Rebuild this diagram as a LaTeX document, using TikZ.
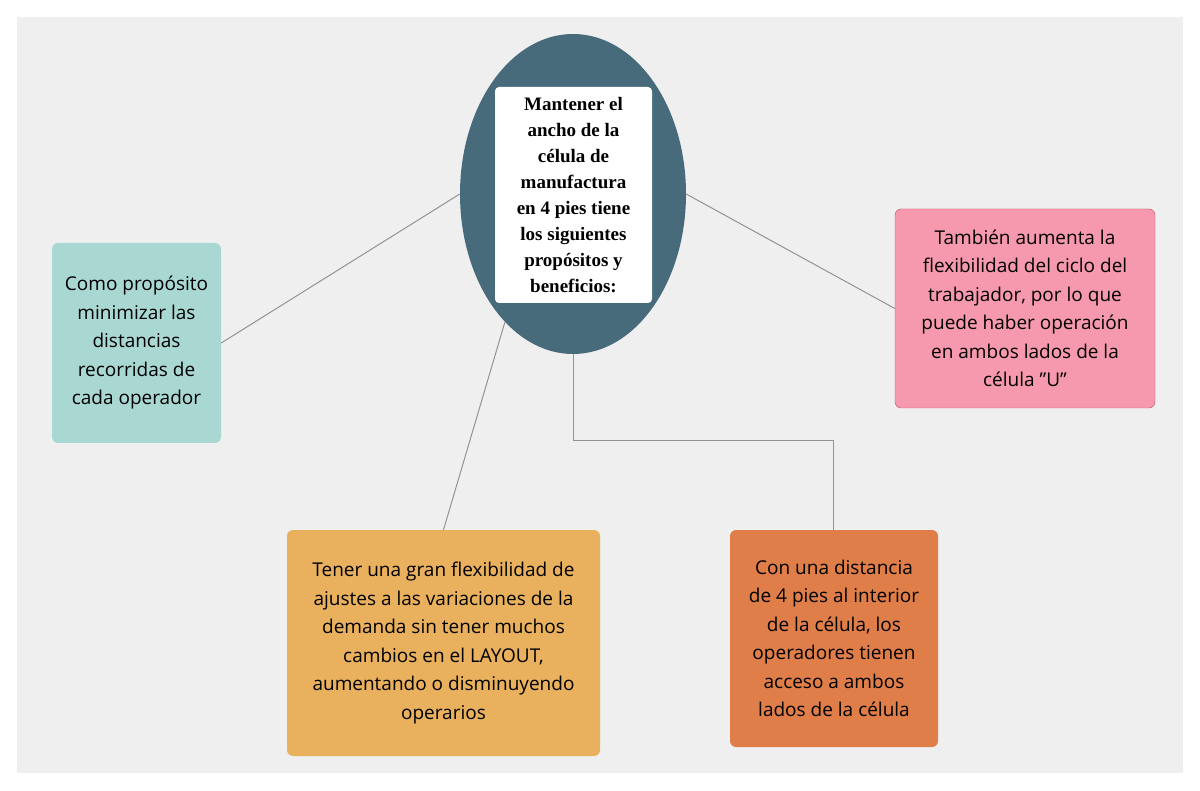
\documentclass[tikz,border=0pt]{standalone}
\usepackage{fontspec}
\setmainfont{Open Sans}
\newfontfamily\serifb{Liberation Serif}
\usetikzlibrary{shapes.geometric}
\definecolor{bg}{HTML}{EFEFEF}
\definecolor{ell}{HTML}{476B7B}
\definecolor{cteal}{HTML}{A9D8D3}
\definecolor{cpink}{HTML}{F799AE}
\definecolor{cyel}{HTML}{E9B15E}
\definecolor{corg}{HTML}{DF7E48}
\begin{document}
\begin{tikzpicture}[x=1pt,y=-1pt,
 box/.style={rounded corners=6pt,align=center,inner sep=0pt,font=\fontsize{19}{28.5}\selectfont},
 conn/.style={draw=gray!85,line width=1pt}]
\useasboundingbox (0,0) rectangle (1200,791);
\fill[bg] (17,17) rectangle (1183,773);
\node[ellipse,fill=ell,minimum width=226pt,minimum height=320pt,inner sep=0pt] (e) at (573,194) {};
\node[fill=white,rounded corners=4pt,minimum width=157pt,minimum height=216pt,inner sep=0pt,align=center,font=\serifb\bfseries\fontsize{19}{26}\selectfont] (c) at (573.5,195) {Mantener el\\ancho de la\\célula de\\manufactura\\en 4 pies tiene\\los siguientes\\propósitos y\\beneficios:};
\node[box,fill=cteal,minimum width=169pt,minimum height=200pt] (l) at (136.5,343) {Como propósito\\minimizar las\\distancias\\recorridas de\\cada operador};
\node[box,fill=cpink,draw={rgb,255:red,192;green,80;blue,106},minimum width=260pt,minimum height=199pt] (r) at (1025,308.5) {También aumenta la\\flexibilidad del ciclo del\\trabajador, por lo que\\puede haber operación\\en ambos lados de la\\célula "U"};
\node[box,fill=cyel,minimum width=313pt,minimum height=226pt] (bl) at (443.5,643) {Tener una gran flexibilidad de\\ajustes a las variaciones de la\\demanda sin tener muchos\\cambios en el LAYOUT,\\aumentando o disminuyendo\\operarios};
\node[box,fill=corg,minimum width=208pt,minimum height=217pt] (br) at (834,638.5) {Con una distancia\\de 4 pies al interior\\de la célula, los\\operadores tienen\\acceso a ambos\\lados de la célula};
\coordinate (k1) at (573,441);
\coordinate (k2) at (833,441);
\draw[conn] (e.west) -- (l.east);
\draw[conn] (e.east) -- (r.west);
\draw[conn] (e.-118) -- (bl.north);
\draw[conn] (e.south) -- (k1) -- (k2) -- (br.north -| k2);
\end{tikzpicture}
\end{document}
